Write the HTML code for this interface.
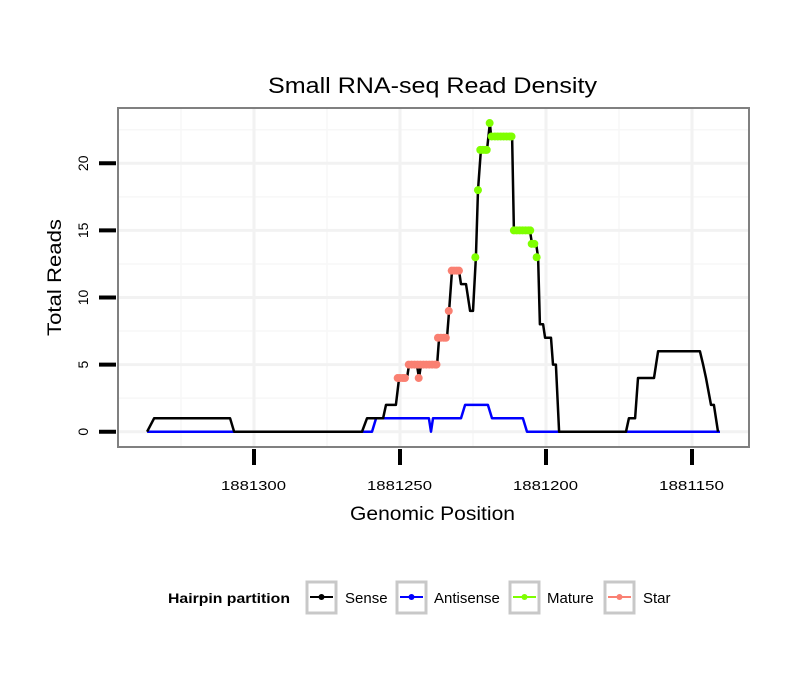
<!DOCTYPE html>
<html><head><meta charset="utf-8"><style>
body{margin:0;background:#fff;}
svg{display:block;font-family:"Liberation Sans",sans-serif;}
</style></head><body>
<svg id="chart" width="810" height="690">
<rect x="0" y="0" width="810" height="690" fill="#fff"/>
<text x="268" y="93" font-size="22" textLength="329" lengthAdjust="spacingAndGlyphs">Small RNA-seq Read Density</text>
<g id="grid"></g>
<g id="series"></g>
<rect x="118" y="108" width="631" height="339" fill="none" stroke="#808080" stroke-width="2"/>
<g id="axes"></g>
<text x="350" y="520" font-size="19" textLength="165" lengthAdjust="spacingAndGlyphs">Genomic Position</text>
<text transform="translate(61,336) rotate(-90)" font-size="19" textLength="117" lengthAdjust="spacingAndGlyphs">Total Reads</text>
<g>
<text x="168" y="603" font-size="14" font-weight="bold" textLength="122" lengthAdjust="spacingAndGlyphs">Hairpin partition</text>
<g><rect x="307" y="582" width="29" height="31" fill="#fff" stroke="#c8c8c8" stroke-width="3"/><line x1="310" y1="597" x2="333" y2="597" stroke="#000" stroke-width="2"/><circle cx="321.5" cy="597" r="3" fill="#000"/><text x="345" y="603" font-size="15">Sense</text></g>
<g><rect x="397" y="582" width="29" height="31" fill="#fff" stroke="#c8c8c8" stroke-width="3"/><line x1="400" y1="597" x2="423" y2="597" stroke="#0000ff" stroke-width="2"/><circle cx="411.5" cy="597" r="3" fill="#0000ff"/><text x="434" y="603" font-size="15">Antisense</text></g>
<g><rect x="510" y="582" width="29" height="31" fill="#fff" stroke="#c8c8c8" stroke-width="3"/><line x1="513" y1="597" x2="536" y2="597" stroke="#7fff00" stroke-width="2"/><circle cx="524.5" cy="597" r="3" fill="#7fff00"/><text x="547" y="603" font-size="15">Mature</text></g>
<g><rect x="605" y="582" width="29" height="31" fill="#fff" stroke="#c8c8c8" stroke-width="3"/><line x1="608" y1="597" x2="631" y2="597" stroke="#fa8072" stroke-width="2"/><circle cx="619.5" cy="597" r="3" fill="#fa8072"/><text x="643" y="603" font-size="15">Star</text></g>
</g>
</svg>
<script>
const xTicks = [1881300, 1881250, 1881200, 1881150];
const yTicks = [0, 5, 10, 15, 20];
const sensePos = [1881336.6,1881334.2,1881308.2,1881306.8,1881263.0,1881261.3,1881255.8,1881254.8,1881251.4,1881250.3,1881247.6,1881246.9,1881244.2,1881243.5,1881242.8,1881237.3,1881236.6,1881233.9,1881233.2,1881232.2,1881229.8,1881229.1,1881227.4,1881226.0,1881225.0,1881224.0,1881223.3,1881222.3,1881220.2,1881219.2,1881218.8,1881211.6,1881211.0,1881205.5,1881204.8,1881203.4,1881202.7,1881202.1,1881201.0,1881200.3,1881198.3,1881197.6,1881196.6,1881195.5,1881172.6,1881171.6,1881169.5,1881168.5,1881163.0,1881161.6,1881147.3,1881146.2,1881145.2,1881143.5,1881142.5,1881141.1];
const senseVal = [0,1,1,0,0,1,1,2,2,4,4,5,5,4,5,5,7,7,9,12,12,11,11,9,9,13,18,21,21,23,22,22,15,15,14,14,13,8,8,7,7,5,5,0,0,1,1,4,4,6,6,5,4,2,2,0];
const antiPos = [1881336.6,1881259.6,1881258.2,1881240.1,1881239.4,1881238.7,1881229.1,1881227.7,1881219.9,1881218.5,1881207.9,1881206.5,1881140.4];
const antiVal = [0,0,1,1,0,1,1,2,2,1,1,0,0];
const starPos = [1881250.8,1881250,1881249,1881248.3,1881243.6,1881247,1881246,1881245,1881244,1881243,1881242,1881241,1881240,1881239,1881238,1881237.5,1881237,1881236,1881235,1881234.3,1881233.3,1881232.3,1881231.5,1881230.6,1881229.8];
const starVal = [4,4,4,4,4,5,5,5,5,5,5,5,5,5,5,5,7,7,7,7,9,12,12,12,12];
const matPos = [1881224.2,1881223.3,1881222.5,1881221.6,1881220.8,1881220.3,1881219.3,1881218.6,1881217.5,1881216.5,1881215.5,1881214.5,1881213.5,1881212.5,1881211.8,1881211,1881210,1881209,1881208,1881207,1881206,1881205.4,1881204.9,1881204,1881203.2];
const matVal = [13,18,21,21,21,21,23,22,22,22,22,22,22,22,22,15,15,15,15,15,15,15,14,14,13];

const X = p => 254 + (1881300 - p) * 2.92;
const Y = v => 431.7 - v * 13.42;
const NS = 'http://www.w3.org/2000/svg';
function mk(tag, attrs, parent){const e=document.createElementNS(NS,tag);for(const k in attrs)e.setAttribute(k,attrs[k]);parent.appendChild(e);return e;}
const grid=document.getElementById('grid'), axes=document.getElementById('axes'), series=document.getElementById('series');
mk('rect',{x:118,y:108,width:631,height:339,fill:'#fff'},grid);
[1881325,1881275,1881225,1881175].forEach(p=>{const l=mk('line',{x1:X(p),x2:X(p),y1:108,y2:447,stroke:'#f7f7f7','stroke-width':1.5},grid);

});
[2.5,7.5,12.5,17.5,22.5].forEach(v=>{const l=mk('line',{x1:118,x2:749,y1:Y(v),y2:Y(v),stroke:'#f7f7f7','stroke-width':1.5},grid);

});
xTicks.forEach(p=>{const l=mk('line',{x1:X(p),x2:X(p),y1:108,y2:447,stroke:'#f2f2f2','stroke-width':3},grid);


const t=mk('line',{x1:X(p),x2:X(p),y1:449,y2:465,stroke:'#000','stroke-width':4},axes);


const tx=mk('text',{x:X(p)-33,y:490,'font-size':13,textLength:65,lengthAdjust:'spacingAndGlyphs'},axes);tx.textContent=p;

});
yTicks.forEach(v=>{const l=mk('line',{x1:118,x2:749,y1:Y(v),y2:Y(v),stroke:'#f2f2f2','stroke-width':3},grid);


const t=mk('line',{x1:99,x2:116,y1:Y(v),y2:Y(v),stroke:'#000','stroke-width':4},axes);


const tx=mk('text',{transform:`translate(88,${Y(v)}) rotate(-90)`,'font-size':14,'text-anchor':'middle'},axes);tx.textContent=v;

});
function line(pos,val,color,name){const d=pos.map((p,i)=>(i?'L':'M')+X(p).toFixed(1)+','+Y(val[i]).toFixed(1)).join('');
const e=mk('path',{d:d,fill:'none',stroke:color,'stroke-width':2.5,'stroke-linejoin':'round'},series);

}
function pts(pos,val,color,name){pos.forEach((p,i)=>{const c=mk('circle',{cx:X(p),cy:Y(val[i]),r:4,fill:color},series);

});}
line(antiPos,antiVal,'#0000ff','antisense-line');
line(sensePos,senseVal,'#000','sense-line');
pts(starPos,starVal,'#fa8072','star-point');
pts(matPos,matVal,'#7fff00','mature-point');
</script>
</body></html>
